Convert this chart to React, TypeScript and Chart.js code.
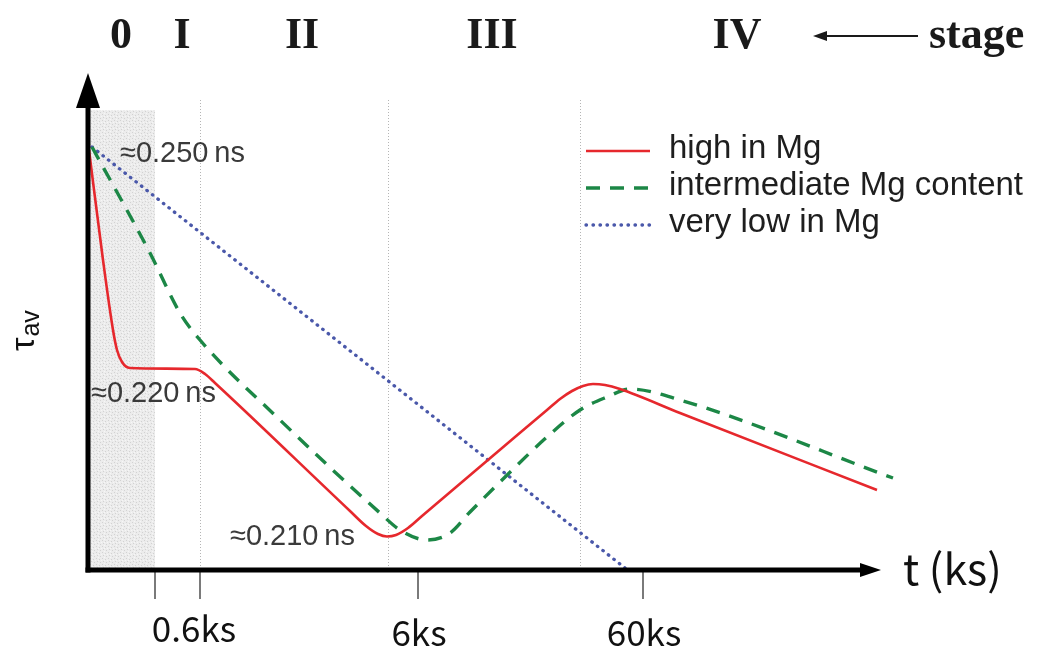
import { useEffect, useRef } from 'react';
import { Chart, registerables } from 'chart.js';

Chart.register(...registerables);

// Schematic units: x = time position (log-like schematic axis), y = relative tau_av
const redX = [1, 15, 25, 29, 34, 42, 107, 117, 127, 262, 278, 290, 299, 308, 320, 334, 459, 472, 484, 495, 505, 517, 532, 592, 789];
const redY = [420, 310, 240, 220, 208, 202, 201, 196, 187, 59, 44, 36, 33.5, 35, 42, 54, 160, 171, 179, 184, 186, 185, 181, 157, 80];

const greenX = [4, 62, 92, 112, 192, 292, 312, 339, 362, 382, 409, 459, 492, 519, 542, 592, 805];
const greenY = [423, 317, 257, 230, 150, 57, 40, 30, 37, 58, 85, 133, 160, 173, 181, 170, 92];

const blueX = [4, 537];
const blueY = [423, 2];

const seriesLabels = ['high in Mg', 'intermediate Mg content', 'very low in Mg'];

const shadeEnd = 67;
const gridX = [112, 300, 492];
const tickValues = [67, 112, 330, 555];
const tickLabels = ['', '0.6ks', '6ks', '60ks'];

const stageLabels = ['0', 'I', 'II', 'III', 'IV'];
const stageCenters = [33, 94, 214, 404, 649];

const annoTexts = ['≈0.250\u2009ns', '≈0.220\u2009ns', '≈0.210\u2009ns'];
const annoX = [32, 3, 142];
const annoY = [408, 168, 25];

const X_MAX = 812;
const Y_MAX = 500;

function pts(xs: number[], ys: number[]) {
  return xs.map((x, i) => ({ x, y: ys[i] }));
}

export default function App() {
  const ref = useRef<HTMLCanvasElement>(null);

  useEffect(() => {
    const canvas = ref.current!;
    const pc = document.createElement('canvas');
    pc.width = 6;
    pc.height = 6;
    const pctx = pc.getContext('2d')!;
    pctx.fillStyle = '#ececec';
    pctx.fillRect(0, 0, 6, 6);
    pctx.fillStyle = '#d2d2d2';
    pctx.fillRect(0, 0, 1, 1);
    pctx.fillRect(3, 1, 1, 1);
    pctx.fillRect(1, 3, 1, 1);
    pctx.fillRect(4, 4, 1, 1);
    pctx.fillStyle = '#f6f6f6';
    pctx.fillRect(2, 2, 1, 1);
    pctx.fillRect(5, 2, 1, 1);
    pctx.fillRect(2, 5, 1, 1);
    const pattern = canvas.getContext('2d')!.createPattern(pc, 'repeat');

    const decor = {
      id: 'decor',
      beforeDatasetsDraw(chart: any) {
        const ctx = chart.ctx as CanvasRenderingContext2D;
        const xs = chart.scales.x;
        const ys = chart.scales.y;
        ctx.save();
        const x0 = xs.getPixelForValue(0);
        const x1 = xs.getPixelForValue(shadeEnd);
        const yTop = ys.getPixelForValue(460);
        const yBot = ys.getPixelForValue(0);
        ctx.fillStyle = pattern || '#e4e4e4';
        ctx.fillRect(x0, yTop, x1 - x0, yBot - yTop);
        ctx.strokeStyle = '#b5b5b5';
        ctx.lineWidth = 1;
        ctx.setLineDash([1, 2]);
        const gTop = ys.getPixelForValue(470);
        gridX.forEach((g) => {
          const px = Math.round(xs.getPixelForValue(g)) + 0.5;
          ctx.beginPath();
          ctx.moveTo(px, gTop);
          ctx.lineTo(px, yBot);
          ctx.stroke();
        });
        ctx.restore();
      },
      afterDatasetsDraw(chart: any) {
        const ctx = chart.ctx as CanvasRenderingContext2D;
        const xs = chart.scales.x;
        const ys = chart.scales.y;
        const ox = xs.getPixelForValue(0);
        const oy = ys.getPixelForValue(0);
        ctx.save();
        ctx.setLineDash([]);
        ctx.strokeStyle = '#7a7a7a';
        ctx.lineWidth = 2;
        tickValues.forEach((t) => {
          const px = xs.getPixelForValue(t);
          ctx.beginPath();
          ctx.moveTo(px, oy + 2);
          ctx.lineTo(px, oy + 29);
          ctx.stroke();
        });
        ctx.strokeStyle = '#000';
        ctx.fillStyle = '#000';
        ctx.lineWidth = 5;
        ctx.lineCap = 'butt';
        ctx.beginPath();
        ctx.moveTo(ox, oy + 2.5);
        ctx.lineTo(ox, 100);
        ctx.stroke();
        ctx.beginPath();
        ctx.moveTo(ox - 2.5, oy);
        ctx.lineTo(866, oy);
        ctx.stroke();
        ctx.beginPath();
        ctx.moveTo(ox, 73);
        ctx.lineTo(ox - 12, 108);
        ctx.lineTo(ox + 12, 108);
        ctx.closePath();
        ctx.fill();
        ctx.beginPath();
        ctx.moveTo(881, oy);
        ctx.lineTo(860, oy - 7);
        ctx.lineTo(860, oy + 7);
        ctx.closePath();
        ctx.fill();

        ctx.fillStyle = '#111';
        ctx.font = '35px "Noto Sans CJK JP"';
        ctx.textAlign = 'center';
        ctx.textBaseline = 'alphabetic';
        tickLabels.forEach((lab, i) => {
          if (!lab) return;
          const px = xs.getPixelForValue(tickValues[i]);
          ctx.fillText(lab, i === 1 ? px - 6 : px + 1, i === 1 ? 642 : 646);
        });
        ctx.textAlign = 'left';
        ctx.font = '43px "Noto Sans CJK JP"';
        ctx.fillText('t (ks)', 903, 585);

        ctx.save();
        ctx.translate(34, 351);
        ctx.rotate(-Math.PI / 2);
        ctx.font = '34px "Liberation Sans"';
        ctx.fillStyle = '#111';
        ctx.fillText('τ', 0, 0);
        const tw = ctx.measureText('τ').width;
        ctx.font = '25px "Liberation Sans"';
        ctx.fillText('av', tw + 1, 5);
        ctx.restore();

        ctx.fillStyle = '#3a3a3a';
        ctx.font = '29px "Liberation Sans"';
        ctx.textAlign = 'left';
        annoTexts.forEach((t, i) => {
          ctx.fillText(t, xs.getPixelForValue(annoX[i]), ys.getPixelForValue(annoY[i]));
        });

        const ds = chart.data.datasets;
        const rowBase = [158, 195, 232];
        ctx.font = '33px "Liberation Sans"';
        ds.forEach((d: any, i: number) => {
          const ly = rowBase[i] - 7;
          ctx.save();
          ctx.strokeStyle = d.borderColor;
          ctx.lineWidth = d.borderWidth;
          ctx.setLineDash(d.borderDash || []);
          ctx.lineCap = d.borderCapStyle || 'butt';
          ctx.beginPath();
          ctx.moveTo(586, ly);
          ctx.lineTo(650, ly);
          ctx.stroke();
          ctx.restore();
          ctx.fillStyle = '#1e1e1e';
          ctx.fillText(d.label, 669, rowBase[i]);
        });

        ctx.fillStyle = '#1a1a1a';
        ctx.font = 'bold 44px "Liberation Serif"';
        ctx.textAlign = 'center';
        stageLabels.forEach((s, i) => {
          ctx.fillText(s, xs.getPixelForValue(stageCenters[i]), 48);
        });
        ctx.textAlign = 'left';
        ctx.fillText('stage', 929, 48);
        ctx.strokeStyle = '#1a1a1a';
        ctx.lineWidth = 2;
        ctx.beginPath();
        ctx.moveTo(824, 36);
        ctx.lineTo(918, 36);
        ctx.stroke();
        ctx.beginPath();
        ctx.moveTo(813, 36);
        ctx.lineTo(827, 31);
        ctx.lineTo(827, 41);
        ctx.closePath();
        ctx.fill();
        ctx.restore();
      },
    };

    const chart = new Chart(canvas, {
      type: 'line',
      data: {
        datasets: [
          {
            label: seriesLabels[0],
            data: pts(redX, redY),
            borderColor: '#e6282d',
            borderWidth: 2.6,
            pointRadius: 0,
            cubicInterpolationMode: 'monotone',
            fill: false,
          },
          {
            label: seriesLabels[1],
            data: pts(greenX, greenY),
            borderColor: '#1c8746',
            borderWidth: 3.4,
            borderDash: [14, 10],
            pointRadius: 0,
            cubicInterpolationMode: 'monotone',
            fill: false,
          },
          {
            label: seriesLabels[2],
            data: pts(blueX, blueY),
            borderColor: '#4a58aa',
            borderWidth: 3.3,
            borderDash: [0.5, 6.5],
            borderCapStyle: 'round',
            pointRadius: 0,
            fill: false,
          },
        ] as any,
      },
      options: {
        animation: false,
        responsive: false,
        maintainAspectRatio: false,
        layout: { padding: { left: 88, right: 138, top: 70, bottom: 85 } },
        plugins: { legend: { display: false }, tooltip: { enabled: false }, title: { display: false } },
        scales: {
          x: { type: 'linear', min: 0, max: X_MAX, display: false },
          y: { type: 'linear', min: 0, max: Y_MAX, display: false },
        },
        elements: { line: { tension: 0 } },
      },
      plugins: [decor],
    });
    return () => chart.destroy();
  }, []);

  return (
    <div style={{ position: 'fixed', left: 0, top: 0, width: 1038, height: 655, background: '#fff' }}>
      <canvas ref={ref} width={1038} height={655} style={{ width: 1038, height: 655, display: 'block' }} />
    </div>
  );
}
